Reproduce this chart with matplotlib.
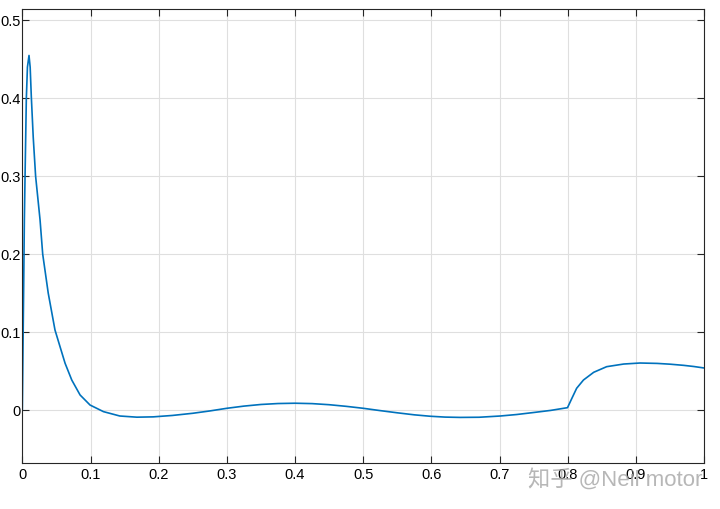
import matplotlib.pyplot as plt

plt.rcParams['font.family'] = ['Liberation Sans', 'Noto Sans CJK SC', 'DejaVu Sans']

# values
x = [0, 0.001, 0.002, 0.003, 0.004, 0.0059, 0.0075, 0.0098, 0.0115, 0.0132,
     0.016, 0.0195, 0.026, 0.0299, 0.038, 0.0479, 0.0553, 0.0627, 0.0725,
     0.0847, 0.0993, 0.119, 0.143, 0.168, 0.192, 0.22, 0.25, 0.275, 0.30,
     0.325, 0.35, 0.375, 0.40, 0.425, 0.45, 0.475, 0.50, 0.525, 0.55, 0.575,
     0.598, 0.62, 0.642, 0.67, 0.701, 0.725, 0.75, 0.775, 0.7996, 0.806,
     0.813, 0.823, 0.838, 0.857, 0.882, 0.906, 0.931, 0.95, 0.970, 0.985,
     1.0]
y = [0, 0.08, 0.16, 0.244, 0.30, 0.40, 0.44, 0.455, 0.44, 0.402,
     0.35, 0.30, 0.244, 0.20, 0.15, 0.1027, 0.0813, 0.060, 0.0385,
     0.0193, 0.0064, -0.0021, -0.0077, -0.0092, -0.0088, -0.0070, -0.0042,
     -0.0012, 0.0022, 0.0050, 0.0071, 0.0083, 0.0087, 0.0082, 0.0068, 0.0047,
     0.0022, -0.0008, -0.0036, -0.0062, -0.0080, -0.0091, -0.0095, -0.0093,
     -0.0077, -0.0058, -0.0032, -0.0005, 0.0030, 0.015, 0.0279, 0.0385,
     0.0484, 0.0556, 0.059, 0.0603, 0.0598, 0.0588, 0.0573, 0.0558, 0.0539]

xticks = [0, 0.1, 0.2, 0.3, 0.4, 0.5, 0.6, 0.7, 0.8, 0.9, 1]
xlabels = ['0', '0.1', '0.2', '0.3', '0.4', '0.5', '0.6', '0.7', '0.8', '0.9', '1']
yticks = [0, 0.1, 0.2, 0.3, 0.4, 0.5]
ylabels = ['0', '0.1', '0.2', '0.3', '0.4', '0.5']

fig = plt.figure(figsize=(7.2, 5.09), dpi=100)
ax = fig.add_axes([0.031, 0.091, 0.947, 0.891])
ax.plot(x, y, color=(0, 0.447, 0.741), linewidth=1.2)

ax.set_xlim(0, 1)
ax.set_ylim(-0.0676, 0.5144)
ax.set_xticks(xticks)
ax.set_xticklabels(xlabels)
ax.set_yticks(yticks)
ax.set_yticklabels(ylabels)
ax.grid(True, color='#dfdfdf', linewidth=0.8)
ax.set_axisbelow(True)
ax.tick_params(direction='in', length=5, width=0.8, top=True, right=True,
               labelsize=10.5, colors='#262626', labelcolor='black')
ax.tick_params(axis='x', pad=4)
ax.tick_params(axis='y', pad=1)
for s in ax.spines.values():
    s.set_color('#262626')
    s.set_linewidth(0.8)

fig.text(0.975, 0.058, '知乎 @Neil motor', ha='right', va='center',
         fontsize=16, color='#a5a5a5', alpha=0.8)

fig.savefig('out.png', dpi=100)
